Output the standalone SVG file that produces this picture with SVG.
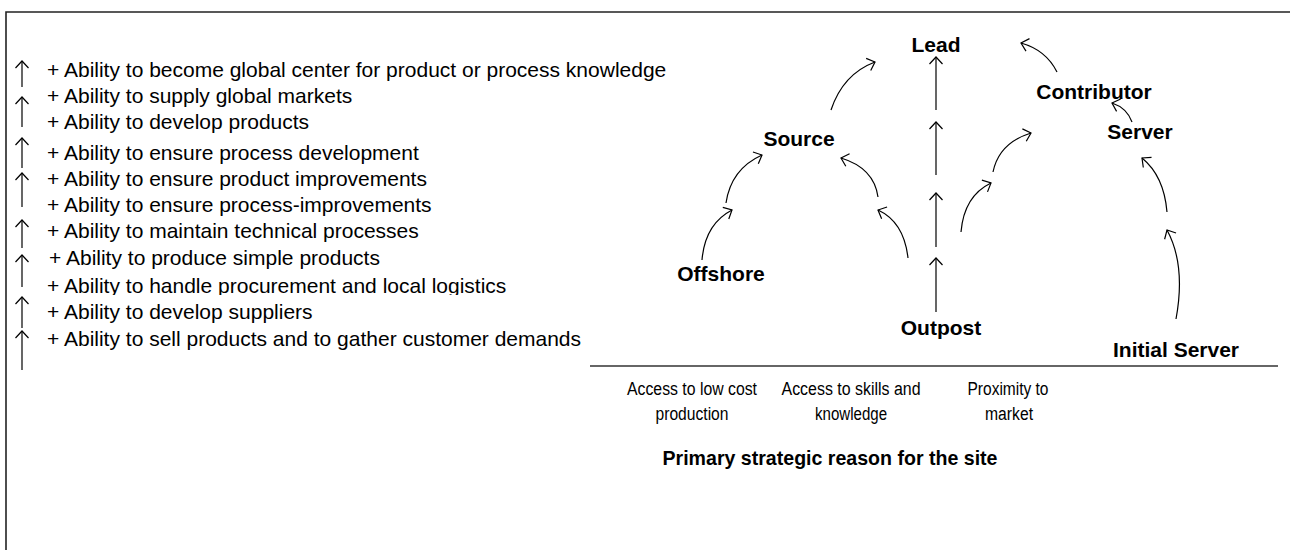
<svg xmlns="http://www.w3.org/2000/svg" width="1290" height="550" viewBox="0 0 1290 550">
  <defs>
    <marker id="ah" markerUnits="userSpaceOnUse" markerWidth="20" markerHeight="20" refX="10" refY="10" orient="auto" viewBox="0 0 20 20">
      <path d="M3,3.5 L10,10 L3,16.5" fill="none" stroke="#000" stroke-width="1.2"/>
    </marker>
    <clipPath id="clip9"><rect x="40" y="270" width="600" height="25"/></clipPath>
  </defs>
  <style>
    .frame{stroke:#222;stroke-width:1.6;fill:none}
    .conn{stroke:#000;stroke-width:1.2;fill:none;marker-end:url(#ah)}
    .item{font-family:"Liberation Sans",Arial,sans-serif;font-size:21px;fill:#000}
    .node{font-family:"Liberation Sans",Arial,sans-serif;font-size:21px;font-weight:bold;fill:#000;text-anchor:middle}
    .axis{font-family:"Liberation Sans Narrow","Liberation Sans",Arial,sans-serif;font-size:18px;fill:#000;text-anchor:middle}
    .title{font-family:"Liberation Sans Narrow","Liberation Sans",Arial,sans-serif;font-size:21px;font-weight:bold;fill:#000;text-anchor:middle}
  </style>
  <rect width="1290" height="550" fill="#fff"/>
  <path class="frame" d="M6,550 L6,12 L1290,12"/>

  <g id="ability-list">
    <text class="item" x="47" y="77">+ Ability to become global center for product or process knowledge</text>
    <text class="item" x="47" y="103">+ Ability to supply global markets</text>
    <text class="item" x="47" y="129">+ Ability to develop products</text>
    <text class="item" x="47" y="160">+ Ability to ensure process development</text>
    <text class="item" x="47" y="186">+ Ability to ensure product improvements</text>
    <text class="item" x="47" y="212">+ Ability to ensure process-improvements</text>
    <text class="item" x="47" y="238">+ Ability to maintain technical processes</text>
    <text class="item" x="49" y="265">+ Ability to produce simple products</text>
    <text class="item" x="47" y="293" clip-path="url(#clip9)">+ Ability to handle procurement and local logistics</text>
    <text class="item" x="47" y="319">+ Ability to develop suppliers</text>
    <text class="item" x="47" y="346">+ Ability to sell products and to gather customer demands</text>
  </g>

  <g id="node-lead"><text class="node" x="936" y="52">Lead</text></g>
  <g id="node-source"><text class="node" x="799" y="146">Source</text></g>
  <g id="node-contributor"><text class="node" x="1094" y="99">Contributor</text></g>
  <g id="node-server"><text class="node" x="1140" y="139">Server</text></g>
  <g id="node-offshore"><text class="node" x="721" y="281">Offshore</text></g>
  <g id="node-outpost"><text class="node" x="941" y="335">Outpost</text></g>
  <g id="node-initial-server"><text class="node" x="1176" y="357">Initial Server</text></g>

  <g id="axis">
    <line x1="590" y1="366" x2="1278" y2="366" stroke="#333" stroke-width="1.4"/>
    <text class="axis" x="692" y="395" textLength="130" lengthAdjust="spacingAndGlyphs">Access to low cost</text>
    <text class="axis" x="692" y="420" textLength="73" lengthAdjust="spacingAndGlyphs">production</text>
    <text class="axis" x="851" y="395" textLength="139" lengthAdjust="spacingAndGlyphs">Access to skills and</text>
    <text class="axis" x="851" y="420" textLength="72" lengthAdjust="spacingAndGlyphs">knowledge</text>
    <text class="axis" x="1008" y="395" textLength="81" lengthAdjust="spacingAndGlyphs">Proximity to</text>
    <text class="axis" x="1009" y="420" textLength="48" lengthAdjust="spacingAndGlyphs">market</text>
    <text class="title" x="830" y="465" textLength="335" lengthAdjust="spacingAndGlyphs">Primary strategic reason for the site</text>
  </g>

  <g id="connectors">
    <!-- left list arrows -->
    <path class="conn" d="M22,87 L22,61"/>
    <path class="conn" d="M22,127 L22,97"/>
    <path class="conn" d="M22,168 L22,138"/>
    <path class="conn" d="M22,207 L22,173"/>
    <path class="conn" d="M22,248 L22,220"/>
    <path class="conn" d="M22,287 L22,255"/>
    <path class="conn" d="M22,328 L22,297"/>
    <path class="conn" d="M22,370 L22,331"/>
    <!-- Outpost vertical chain to Lead -->
    <path class="conn" d="M936,110 L936,57"/>
    <path class="conn" d="M936,175 L936,122"/>
    <path class="conn" d="M936,247 L936,193"/>
    <path class="conn" d="M936,312 L936,258"/>
    <!-- Offshore to Source -->
    <path class="conn" d="M702,260 Q705,224 732,210"/>
    <path class="conn" d="M726,203 Q731,169 762,155"/>
    <!-- Source to Lead -->
    <path class="conn" d="M831,110 Q843,74 875,62"/>
    <!-- Outpost to Source -->
    <path class="conn" d="M908,258 Q904,222 878,210"/>
    <path class="conn" d="M878,197 Q874,168 841,158"/>
    <!-- Outpost to Contributor -->
    <path class="conn" d="M961,232 Q964,196 991,183"/>
    <path class="conn" d="M993,172 Q999,143 1031,133"/>
    <!-- Initial Server to Server -->
    <path class="conn" d="M1176,319 Q1186,265 1167,230"/>
    <path class="conn" d="M1167,212 Q1164,176 1142,158"/>
    <!-- Server to Contributor -->
    <path class="conn" d="M1132,122 Q1127,108 1112,103"/>
    <!-- Contributor to Lead -->
    <path class="conn" d="M1057,72 Q1046,50 1021,43"/>
  </g>
</svg>
